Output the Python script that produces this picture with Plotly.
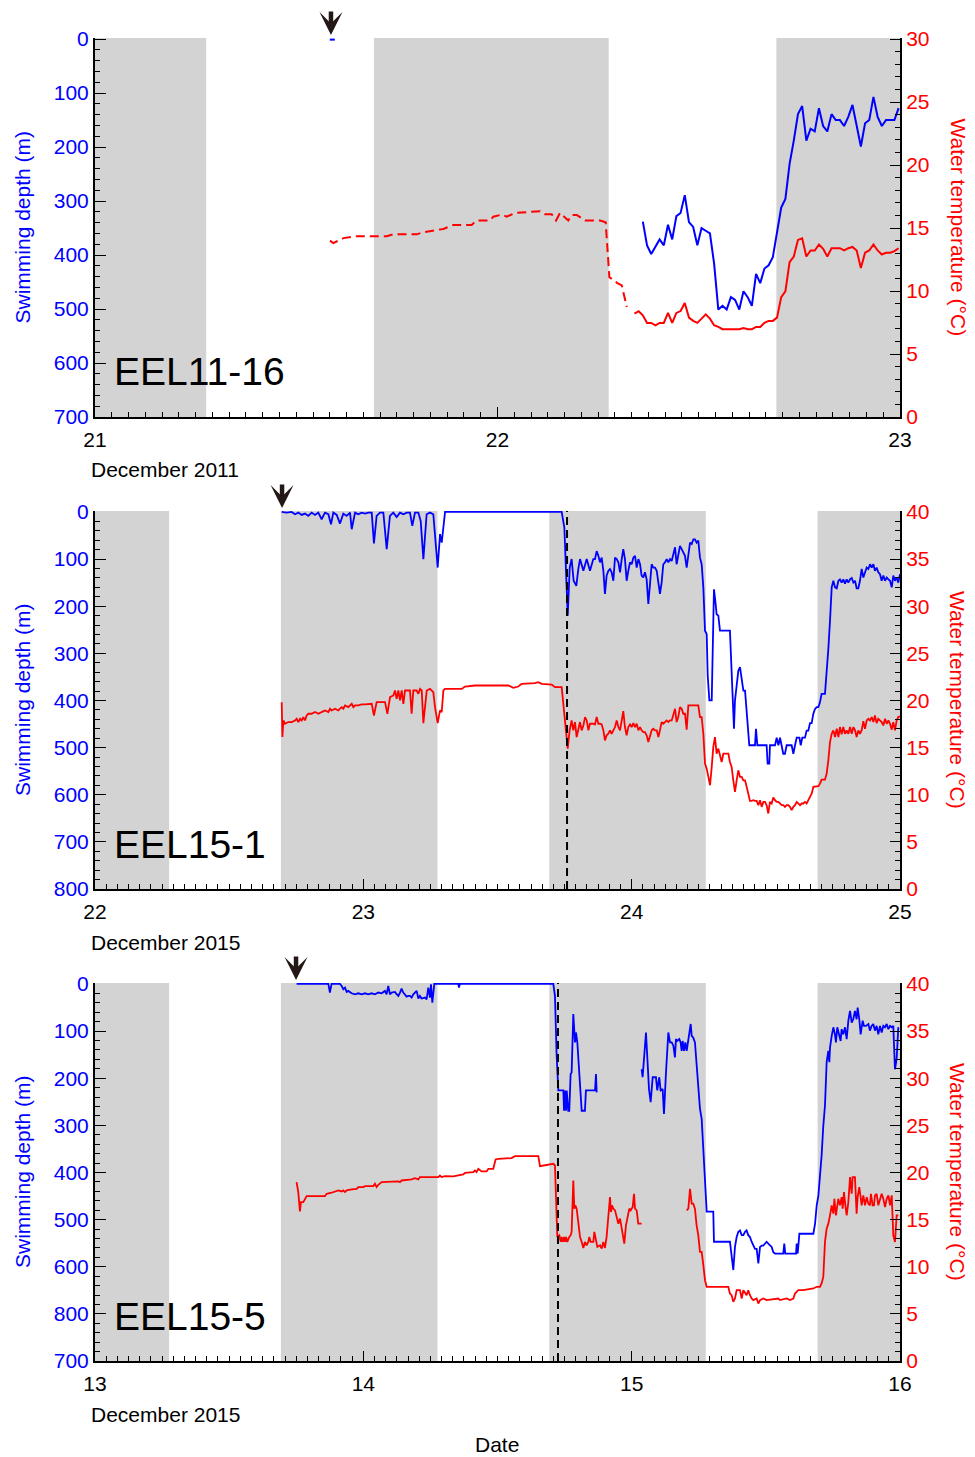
import pandas as pd
import plotly.graph_objects as go

FONT = "Liberation Sans, Arial, Helvetica, sans-serif"
BLUE = "#0000ff"
RED = "#ff0000"
NIGHT = "#d3d3d3"
INK = "#231815"

# ---------------- EEL11-16 : 21-23 December 2011 ----------------
e11_origin = "2011-12-21"
e11_end = "2011-12-23"
e11_release_h = 14.07
e11_night_h = [(0.0, 6.63), (16.63, 30.63), (40.63, 48.0)]
e11_depth_at_release = [(14.0, 1.0), (14.3, 1.0)]
# sparse temperature record before the 15-min logging (hours after origin, deg C)
e11_temp_sparse = [
    (14.01, 14.0), (14.21, 13.8), (14.81, 14.2), (15.61, 14.35), (17.39, 14.35),
    (17.79, 14.5), (19.18, 14.5), (19.58, 14.67), (20.77, 14.93), (21.37, 15.25),
    (22.46, 15.25), (22.76, 15.6), (23.55, 15.6), (23.75, 15.9), (24.25, 16.07),
    (24.55, 15.9), (25.04, 16.2), (26.24, 16.33), (26.54, 16.33), (26.83, 16.1),
    (27.23, 16.1), (27.49, 15.6), (27.73, 16.2), (28.22, 15.6), (28.43, 16.04),
    (28.72, 16.04), (29.22, 15.6), (30.11, 15.6), (30.45, 15.46), (30.67, 11.1),
    (31.15, 10.63), (31.41, 10.45), (31.71, 8.73),
]
e11_temp_start = "2011-12-22 08:10"
e11_temp_15min = [
    8.2, 8.4, 8.07, 7.47, 7.47, 7.28, 7.47, 7.47, 8.26, 7.47,
    8.26, 8.41, 9.05, 7.89, 7.63, 7.47, 7.81, 8.15, 7.81, 7.28,
    7.15, 6.97, 6.97, 6.97, 6.97, 6.97, 7.07, 6.97, 6.97, 7.15,
    7.15, 7.47, 7.63, 7.63, 7.89, 9.52, 9.97, 12.3, 12.74, 14.06,
    14.19, 12.74, 13.22, 13.22, 13.69, 13.35, 12.74, 13.4, 13.4, 13.4,
    13.22, 13.4, 13.5, 13.22, 11.82, 13.04, 13.22, 13.69, 13.22, 12.9,
    13.04, 13.04, 13.17, 13.4,
]
e11_depth_start = "2011-12-22 08:40"
e11_depth_15min = [
    338, 382, 398, 385, 371, 382, 344, 371, 328, 322,
    289, 339, 348, 382, 350, 355, 360, 416, 501, 494,
    501, 478, 483, 501, 467, 478, 494, 435, 452, 425,
    419, 404, 361, 312, 296, 231, 188, 139, 124, 188,
    166, 171, 128, 161, 171, 139, 150, 150, 161, 144,
    122, 161, 199, 156, 150, 107, 144, 161, 150, 150,
    150, 128,
]

# ---------------- EEL15-1 : 22-25 December 2015 ----------------
e15a_origin = "2015-12-22"
e15a_end = "2015-12-25"
e15a_release_h = 16.73
e15a_mark_h = 42.22
e15a_night_h = [(0.0, 6.63), (16.63, 30.63), (40.63, 54.63), (64.63, 72.0)]
e15a_depth = [
    (16.70, 0), (17.14, 1.4), (17.59, 0), (17.89, 4.9), (18.19, 1.4), (18.48, 6.3),
    (18.78, 3.5), (19.08, 8.5), (19.38, 1.4), (19.68, 6.3), (19.97, 1.4), (20.27, 15.5),
    (20.57, 1.4), (20.87, 4.9), (21.11, 26.1), (21.32, 1.4), (21.62, 6.3), (21.91, 24.7),
    (22.21, 3.5), (22.51, 8.5), (22.81, 1.4), (22.96, 36.7), (23.26, 1.4), (23.55, 4.9),
    (23.85, 1.4), (24.15, 3.5), (24.45, 1.4), (24.75, 1.4), (24.95, 67), (25.19, 8.5),
    (25.49, 1.4), (25.79, 1.4), (26.09, 79), (26.38, 8.5), (26.68, 1.4), (26.98, 10.6),
    (27.28, 1.4), (27.58, 4.9), (27.88, 1.4), (28.17, 1.4), (28.38, 29.6), (28.62, 1.4),
    (28.92, 1.4), (29.13, 19), (29.37, 100), (29.66, 4.9), (29.96, 1.4), (30.26, 4.9),
    (30.65, 118), (30.86, 47), (31.01, 65), (31.16, 33), (31.31, 0), (33.99, 0),
    (36.97, 0), (39.95, 0), (40.99, 0), (41.74, 0), (41.98, 33), (42.10, 97),
    (42.28, 220), (42.46, 118), (42.63, 100), (42.81, 146), (43.05, 157), (43.23, 121),
    (43.38, 100), (43.68, 125), (43.98, 100), (44.27, 125), (44.57, 100), (44.72, 100),
    (44.87, 83), (45.02, 93), (45.17, 107), (45.32, 97), (45.47, 125), (45.61, 174),
    (45.76, 135), (45.91, 125), (46.06, 121), (46.21, 128), (46.36, 146), (46.51, 97),
    (46.66, 100), (46.81, 107), (46.96, 128), (47.11, 100), (47.25, 79), (47.40, 100),
    (47.55, 146), (47.70, 125), (47.85, 107), (48.00, 111), (48.15, 97), (48.30, 93),
    (48.45, 118), (48.60, 100), (48.75, 111), (48.89, 135), (49.04, 139), (49.19, 128),
    (49.34, 143), (49.49, 195), (49.64, 153), (49.79, 111), (49.94, 118), (50.09, 118),
    (50.24, 125), (50.39, 146), (50.53, 174), (50.68, 150), (50.83, 111), (50.98, 107),
    (51.13, 100), (51.28, 107), (51.43, 100), (51.58, 104), (51.73, 90), (51.88, 75),
    (52.02, 111), (52.17, 93), (52.32, 72), (52.47, 79), (52.62, 86), (52.77, 93),
    (52.92, 118), (53.07, 90), (53.22, 65), (53.37, 68), (53.52, 58), (53.66, 58),
    (53.81, 65), (53.96, 61), (54.11, 97), (54.26, 111), (54.41, 160), (54.56, 252),
    (54.71, 259), (54.80, 347), (54.95, 400), (55.16, 400), (55.24, 329), (55.36, 164),
    (55.48, 188), (55.60, 217), (55.75, 220), (55.90, 252), (56.79, 252), (56.94, 329),
    (57.15, 460), (57.24, 400), (57.39, 361), (57.54, 337), (57.69, 329), (57.84, 358),
    (57.99, 379), (58.14, 379), (58.29, 425), (58.43, 449), (58.52, 495), (59.03, 495),
    (59.12, 460), (59.24, 495), (60.07, 495), (60.16, 534), (60.31, 534), (60.37, 495),
    (60.82, 495), (60.97, 479), (61.12, 495), (61.27, 479), (61.42, 499), (61.56, 513),
    (61.71, 513), (61.86, 495), (62.31, 495), (62.46, 513), (62.61, 495), (62.76, 479),
    (63.00, 479), (63.12, 495), (63.26, 479), (63.50, 479), (63.65, 464), (63.80, 464),
    (63.95, 448), (64.10, 448), (64.25, 428), (64.40, 418), (64.55, 414), (64.70, 414),
    (64.84, 404), (64.99, 386), (65.29, 386), (65.44, 347), (65.59, 291), (65.74, 231),
    (65.89, 160), (66.04, 146), (66.19, 160), (66.34, 162), (66.49, 146), (66.63, 143),
    (66.78, 150), (66.93, 143), (67.08, 152), (67.23, 143), (67.38, 150), (67.53, 143),
    (67.68, 140), (67.83, 150), (67.98, 146), (68.12, 162), (68.27, 162), (68.42, 146),
    (68.57, 121), (68.72, 139), (68.87, 128), (69.02, 118), (69.17, 121), (69.32, 111),
    (69.47, 118), (69.62, 111), (69.76, 125), (69.91, 118), (70.06, 128), (70.21, 132),
    (70.36, 146), (70.51, 135), (70.66, 146), (70.81, 139), (70.96, 143), (71.11, 146),
    (71.26, 160), (71.40, 135), (71.55, 146), (71.70, 139), (71.85, 150), (72.00, 132),
]
e15a_temp = [
    (16.70, 19.82), (16.76, 16.12), (16.85, 17.88), (16.99, 17.53), (17.29, 17.71),
    (17.59, 17.71), (17.89, 17.88), (18.04, 18.06), (18.19, 17.71), (18.34, 18.06),
    (18.49, 17.88), (18.63, 18.24), (18.78, 17.88), (18.93, 18.41), (19.08, 18.59),
    (19.38, 18.59), (19.68, 18.77), (19.98, 18.59), (20.27, 18.77), (20.57, 18.94),
    (20.87, 18.77), (21.02, 19.12), (21.17, 18.94), (21.47, 19.12), (21.76, 18.94),
    (22.06, 19.29), (22.21, 19.12), (22.36, 19.47), (22.66, 19.29), (22.96, 19.65),
    (23.11, 19.29), (23.26, 19.47), (23.55, 19.47), (23.85, 19.58), (24.15, 19.58),
    (24.45, 19.65), (24.75, 19.65), (24.95, 18.41), (25.19, 19.82), (25.64, 19.82),
    (25.94, 19.82), (26.15, 18.59), (26.39, 20.35), (26.68, 20.53), (26.83, 21.06),
    (26.98, 20.18), (27.13, 21.06), (27.28, 20.00), (27.43, 21.06), (27.58, 19.65),
    (27.73, 21.06), (28.03, 21.06), (28.17, 21.06), (28.32, 18.59), (28.47, 21.06),
    (28.77, 21.06), (28.92, 20.71), (29.07, 21.23), (29.22, 21.06), (29.37, 17.60),
    (29.67, 21.06), (29.96, 21.23), (30.26, 20.88), (30.41, 19.29), (30.65, 17.60),
    (30.86, 18.94), (31.01, 18.77), (31.16, 21.06), (31.30, 21.23), (32.80, 21.23),
    (33.09, 21.48), (33.99, 21.59), (36.97, 21.59), (37.42, 21.34), (37.86, 21.48),
    (38.16, 21.76), (39.35, 21.83), (39.65, 21.94), (39.95, 21.76), (40.85, 21.69),
    (41.14, 21.41), (41.74, 21.41), (41.98, 18.24), (42.10, 16.47), (42.28, 14.89),
    (42.45, 16.83), (42.63, 17.88), (42.78, 16.83), (42.93, 17.71), (43.08, 16.12),
    (43.23, 16.83), (43.38, 17.71), (43.53, 16.83), (43.68, 17.35), (43.83, 18.24),
    (43.98, 17.88), (44.13, 16.83), (44.27, 17.53), (44.57, 17.53), (44.72, 17.46),
    (44.87, 18.24), (45.02, 17.53), (45.17, 17.53), (45.32, 17.46), (45.47, 16.83),
    (45.61, 15.77), (45.76, 16.30), (45.91, 16.47), (46.06, 16.83), (46.21, 16.47),
    (46.36, 16.83), (46.51, 17.18), (46.66, 17.88), (46.81, 17.18), (46.96, 16.83),
    (47.11, 17.71), (47.25, 18.87), (47.40, 17.18), (47.55, 16.30), (47.70, 17.18),
    (47.85, 17.46), (48.00, 17.18), (48.15, 17.60), (48.30, 17.18), (48.45, 17.53),
    (48.60, 16.83), (48.75, 17.18), (48.89, 16.83), (49.04, 16.65), (49.19, 16.65),
    (49.34, 16.30), (49.49, 15.59), (49.64, 16.12), (49.79, 16.83), (49.94, 17.00),
    (50.09, 16.83), (50.24, 16.83), (50.39, 16.12), (50.53, 16.83), (50.68, 17.71),
    (50.83, 17.53), (50.98, 17.71), (51.13, 17.88), (51.28, 17.71), (51.43, 17.88),
    (51.58, 17.88), (51.73, 18.41), (51.88, 19.12), (52.02, 17.71), (52.17, 18.24),
    (52.32, 19.29), (52.47, 19.12), (52.62, 18.59), (52.77, 18.59), (52.92, 16.90),
    (53.07, 19.47), (53.96, 19.47), (54.11, 18.24), (54.26, 18.24), (54.41, 16.47),
    (54.56, 13.30), (54.71, 12.77), (54.86, 11.89), (55.01, 11.01), (55.16, 12.95),
    (55.30, 15.06), (55.45, 16.12), (55.60, 14.36), (55.75, 14.89), (55.90, 14.00),
    (56.05, 13.47), (56.20, 14.36), (56.65, 14.36), (56.79, 13.47), (56.94, 12.95),
    (57.09, 11.53), (57.24, 10.30), (57.39, 11.53), (57.54, 12.59), (57.69, 11.89),
    (57.84, 11.89), (57.99, 11.53), (58.14, 11.53), (58.29, 10.83), (58.43, 9.95),
    (58.58, 9.35), (58.73, 9.35), (58.88, 9.42), (59.03, 9.35), (59.18, 9.35),
    (59.33, 8.89), (59.48, 9.42), (59.63, 8.71), (59.78, 9.24), (59.93, 9.24),
    (60.07, 8.89), (60.22, 8.01), (60.37, 9.24), (60.52, 9.07), (60.67, 9.70),
    (60.82, 9.42), (60.97, 9.24), (61.12, 9.24), (61.27, 9.07), (61.42, 8.89),
    (61.56, 8.89), (61.71, 8.71), (61.86, 8.89), (62.01, 8.89), (62.16, 8.71),
    (62.31, 8.36), (62.46, 8.71), (62.61, 8.89), (62.76, 9.24), (62.91, 9.07),
    (63.06, 8.89), (63.21, 9.07), (63.35, 9.07), (63.50, 9.24), (63.65, 9.07),
    (63.80, 9.42), (63.95, 9.70), (64.10, 10.12), (64.25, 10.83), (64.55, 10.83),
    (64.70, 10.90), (64.84, 11.18), (64.99, 11.60), (65.29, 11.60), (65.44, 12.24),
    (65.59, 13.65), (65.74, 15.59), (65.89, 16.47), (66.04, 16.83), (66.19, 16.12),
    (66.34, 17.00), (66.49, 16.12), (66.63, 17.18), (66.78, 16.40), (66.93, 17.18),
    (67.08, 16.47), (67.23, 16.83), (67.38, 16.47), (67.53, 17.18), (67.68, 16.47),
    (67.83, 17.18), (67.98, 16.83), (68.12, 16.12), (68.27, 16.83), (68.42, 16.47),
    (68.57, 16.83), (68.72, 17.81), (68.87, 17.00), (69.02, 17.88), (69.17, 18.06),
    (69.32, 17.88), (69.47, 18.24), (69.62, 17.71), (69.76, 18.41), (69.91, 17.60),
    (70.06, 18.06), (70.21, 17.88), (70.36, 17.71), (70.51, 17.35), (70.66, 18.06),
    (70.81, 17.53), (70.96, 17.88), (71.11, 17.53), (71.26, 16.90), (71.40, 17.71),
    (71.55, 16.83), (71.70, 17.88), (71.85, 18.24), (72.00, 18.31),
]

# ---------------- EEL15-5 : 13-16 December 2015 ----------------
e15b_origin = "2015-12-13"
e15b_end = "2015-12-16"
e15b_release_h = 17.98
e15b_mark_h = 41.41
e15b_night_h = [(0.0, 6.63), (16.63, 30.63), (40.63, 54.63), (64.63, 72.0)]
e15b_depth = [
    (18.03, 0), (20.87, 0), (21.01, 18.3), (21.16, 0), (21.91, 0), (22.06, 4.2),
    (22.21, 11.3), (22.36, 7.8), (22.51, 16.9), (22.65, 14.8), (22.95, 19.8), (23.25, 21.9),
    (23.55, 19.8), (23.85, 21.9), (24.15, 19.8), (24.44, 21.9), (24.74, 19.8), (25.04, 21.9),
    (25.34, 18.3), (25.64, 19.8), (25.93, 14.8), (26.08, 21.9), (26.23, 4.2), (26.38, 21.9),
    (26.53, 18.3), (26.83, 16.9), (26.98, 21.9), (27.13, 25.4), (27.28, 18.3), (27.42, 9.9),
    (27.57, 18.3), (27.72, 21.9), (27.87, 26.8), (28.02, 25.4), (28.17, 25.4), (28.32, 28.9),
    (28.47, 21.9), (28.77, 14.8), (28.92, 31.0), (29.06, 25.4), (29.21, 31.0), (29.51, 28.9),
    (29.66, 32.5), (29.81, 7.8), (29.96, 28.9), (30.05, 0.7), (30.17, 39.5), (30.35, 0),
    (32.49, 0), (32.55, 7.8), (32.64, 0), (40.99, 0), (41.14, 25.4), (41.29, 152),
    (41.44, 226), (41.89, 226), (41.95, 269), (42.04, 226), (42.13, 269), (42.19, 226),
    (42.33, 269), (42.42, 269), (42.54, 191), (42.63, 188), (42.78, 64), (42.93, 124),
    (43.02, 103), (43.14, 124), (43.32, 191), (43.53, 269), (43.82, 269), (43.91, 226),
    (44.72, 226), (44.81, 191), (44.87, 230), (46.50, None),
    (48.89, 181), (48.98, 198), (49.28, 103), (49.40, 152), (49.55, 223), (49.70, 251),
    (49.88, 198), (50.17, 198), (50.29, 226), (50.47, 198), (50.59, 226), (50.77, 223),
    (50.89, 276), (51.07, 188), (51.28, 103), (51.43, 124), (51.58, 124), (51.73, 131),
    (51.87, 156), (51.96, 117), (52.08, 121), (52.26, 117), (52.38, 124), (52.47, 142),
    (52.56, 121), (52.68, 142), (52.80, 124), (52.92, 142), (53.07, 121), (53.28, 85),
    (53.37, 110), (53.51, 114), (53.66, 124), (53.81, 166), (53.96, 216), (54.11, 265),
    (54.26, 286), (54.41, 350), (54.56, 417), (54.71, 483), (55.30, 483), (55.36, 547),
    (56.79, 547), (56.94, 583), (57.09, 607), (57.24, 558), (57.39, 537), (57.54, 526),
    (57.69, 523), (57.84, 533), (57.99, 533), (58.14, 526), (58.28, 523), (58.43, 533),
    (58.58, 537), (58.73, 547), (58.88, 555), (59.03, 562), (59.18, 562), (59.33, 593),
    (59.48, 558), (59.63, 555), (59.77, 555), (59.92, 551), (60.07, 547), (60.22, 551),
    (60.37, 555), (60.52, 558), (60.67, 569), (60.82, 572), (61.56, 572), (61.65, 551),
    (61.74, 572), (62.70, 572), (62.76, 551), (62.85, 572), (63.00, 530), (64.25, 530),
    (64.40, 509), (64.55, 470), (64.70, 449), (64.84, 413), (64.99, 364), (65.14, 301),
    (65.29, 258), (65.44, 166), (65.59, 142), (65.68, 166), (65.74, 135), (65.89, 110),
    (66.04, 92), (66.18, 107), (66.27, 124), (66.39, 92), (66.57, 107), (66.69, 121),
    (66.78, 96), (66.93, 107), (67.08, 92), (67.23, 117), (67.38, 78), (67.53, 57),
    (67.68, 82), (67.82, 75), (67.97, 57), (68.12, 75), (68.21, 50), (68.36, 75),
    (68.48, 107), (68.66, 78), (68.78, 89), (68.96, 89), (69.17, 85), (69.31, 99),
    (69.46, 89), (69.61, 85), (69.76, 99), (69.91, 89), (70.06, 107), (70.21, 89),
    (70.36, 103), (70.51, 89), (70.66, 92), (70.81, 85), (70.96, 96), (71.11, 89),
    (71.26, 92), (71.40, 89), (71.55, 181), (71.70, 159), (71.85, 92),
]
e15b_temp = [
    (18.03, 18.98), (18.18, 17.92), (18.33, 15.87), (18.42, 16.86), (18.63, 16.86),
    (18.78, 17.21), (18.93, 17.50), (20.57, 17.50), (20.72, 17.74), (21.16, 17.85),
    (21.46, 17.99), (21.76, 18.10), (22.06, 17.99), (22.21, 18.10), (22.36, 17.92),
    (22.51, 18.10), (22.95, 18.20), (23.40, 18.27), (23.55, 18.45), (24.00, 18.45),
    (24.15, 18.55), (24.89, 18.55), (25.04, 18.80), (25.19, 18.45), (25.34, 18.69),
    (25.64, 18.98), (27.13, 19.05), (27.28, 18.98), (27.42, 19.15), (28.32, 19.26),
    (28.62, 19.40), (28.92, 19.26), (29.06, 19.51), (29.51, 19.51), (30.55, 19.58),
    (30.70, 19.51), (30.85, 19.68), (31.00, 19.51), (31.30, 19.61), (32.05, 19.58),
    (32.49, 19.68), (32.94, 19.79), (33.09, 19.96), (33.83, 20.04), (33.98, 20.21),
    (34.13, 20.04), (34.28, 20.39), (34.43, 20.21), (34.58, 20.11), (35.03, 20.11),
    (35.18, 20.39), (35.62, 20.39), (35.83, 21.38), (36.07, 21.45), (37.26, 21.52),
    (37.56, 21.73), (39.65, 21.73), (39.80, 20.67), (40.99, 20.92), (41.14, 20.74),
    (41.23, 17.92), (41.35, 13.16), (41.53, 13.33), (41.65, 12.63), (41.74, 13.16),
    (41.83, 12.63), (41.95, 13.16), (42.04, 12.63), (42.13, 13.16), (42.24, 12.63),
    (42.42, 13.16), (42.54, 13.33), (42.63, 13.69), (42.78, 19.15), (42.87, 16.16),
    (42.96, 16.51), (43.08, 16.16), (43.23, 14.39), (43.38, 13.16), (43.53, 12.63),
    (43.68, 11.99), (43.82, 12.63), (43.97, 12.27), (44.12, 12.63), (44.21, 13.16),
    (44.33, 12.63), (44.57, 12.63), (44.66, 13.69), (44.81, 12.63), (44.93, 12.10),
    (45.17, 12.27), (45.32, 11.92), (45.46, 12.63), (45.61, 11.99), (45.76, 13.16),
    (45.91, 15.27), (46.06, 17.39), (46.15, 15.80), (46.24, 16.51), (46.36, 16.16),
    (46.51, 15.98), (46.66, 15.27), (46.81, 14.57), (46.96, 15.10), (47.10, 14.04),
    (47.25, 13.16), (47.34, 12.45), (47.49, 14.39), (47.61, 15.27), (47.79, 16.16),
    (47.91, 15.98), (48.09, 16.33), (48.21, 17.74), (48.30, 16.16), (48.45, 15.98),
    (48.59, 14.57), (48.89, 14.57), (50.90, None),
    (52.92, 15.98), (53.07, 16.16), (53.22, 18.27), (53.37, 16.69), (53.51, 16.69),
    (53.66, 16.16), (53.81, 14.39), (53.96, 13.33), (54.11, 11.57), (54.26, 11.57),
    (54.41, 10.16), (54.56, 8.57), (54.71, 7.87), (56.64, 7.87), (56.79, 7.16),
    (56.94, 6.98), (57.09, 6.28), (57.24, 6.63), (57.39, 7.51), (57.69, 7.51),
    (57.84, 6.63), (57.99, 7.51), (58.28, 6.98), (58.43, 7.51), (58.58, 6.98),
    (58.73, 6.63), (58.88, 6.46), (59.18, 6.63), (59.33, 6.10), (59.48, 6.46),
    (59.77, 6.63), (60.07, 6.46), (61.12, 6.63), (61.27, 6.46), (61.86, 6.63),
    (62.16, 6.46), (62.46, 6.63), (62.61, 7.16), (62.90, 7.51), (63.35, 7.51),
    (64.25, 7.69), (64.55, 7.87), (64.84, 7.87), (64.99, 8.22), (65.14, 8.92),
    (65.29, 12.63), (65.44, 14.04), (65.59, 14.57), (65.74, 15.45), (65.89, 16.51),
    (66.04, 15.63), (66.13, 17.21), (66.27, 15.45), (66.39, 16.51), (66.48, 17.21),
    (66.63, 16.51), (66.78, 17.39), (66.87, 16.16), (66.99, 17.92), (67.11, 16.51),
    (67.23, 15.45), (67.38, 16.86), (67.53, 19.51), (67.68, 17.74), (67.76, 19.51),
    (67.97, 19.51), (68.12, 15.63), (68.21, 17.39), (68.36, 18.45), (68.48, 17.39),
    (68.57, 16.51), (68.72, 17.57), (68.87, 16.51), (69.02, 17.39), (69.17, 16.68),
    (69.31, 16.51), (69.40, 17.74), (69.55, 16.51), (69.67, 16.51), (69.76, 17.57),
    (69.91, 17.74), (70.06, 16.51), (70.21, 17.04), (70.36, 17.74), (70.51, 17.21),
    (70.66, 16.33), (70.81, 17.21), (70.96, 17.57), (71.11, 16.51), (71.26, 17.57),
    (71.40, 13.33), (71.55, 12.63), (71.70, 15.45), (71.85, 15.45),
]

depth_ticks_700 = [0, 100, 200, 300, 400, 500, 600, 700]
depth_ticks_800 = [0, 100, 200, 300, 400, 500, 600, 700, 800]
depth_text_15_1 = ["0", "100", "200", "300", "400", "500", "600", "700", "800"]
depth_text_15_5 = ["0", "100", "200", "300", "400", "500", "600", "800", "700"]


# ---------------- helpers ----------------
W, H = 975, 1457
X_DOM = [95 / W, 900 / W]


def py(px):
    return 1 - px / H


def at(origin, hours):
    return pd.Timestamp(origin) + pd.to_timedelta(list(hours), unit="h")


def split(pairs):
    hrs = [p[0] for p in pairs]
    vals = [p[1] for p in pairs]
    return hrs, vals


def regular(start, values, minutes=15):
    return pd.date_range(start, periods=len(values), freq=f"{minutes}min")


panels = [
    dict(name="EEL11-16", month="December 2011", origin=e11_origin, end=e11_end,
         top=38, bottom=417, dmax=700, tmax=30, dticks=depth_ticks_700,
         dtext=[str(v) for v in depth_ticks_700], release=e11_release_h,
         nights=e11_night_h, mark=None),
    dict(name="EEL15-1", month="December 2015", origin=e15a_origin, end=e15a_end,
         top=511, bottom=889, dmax=800, tmax=40, dticks=depth_ticks_800,
         dtext=depth_text_15_1, release=e15a_release_h, nights=e15a_night_h,
         mark=e15a_mark_h),
    dict(name="EEL15-5", month="December 2015", origin=e15b_origin, end=e15b_end,
         top=983, bottom=1361, dmax=800, tmax=40, dticks=depth_ticks_800,
         dtext=depth_text_15_5, release=e15b_release_h, nights=e15b_night_h,
         mark=e15b_mark_h),
]

fig = go.Figure()
layout = dict(width=W, height=H, margin=dict(l=0, r=0, t=0, b=0, autoexpand=False),
              paper_bgcolor="white", plot_bgcolor="white", showlegend=False,
              font=dict(family=FONT, size=21, color="black"))
shapes, annotations = [], []

for i, p in enumerate(panels):
    n = i + 1
    xa = "x" if n == 1 else f"x{n}"
    yd = "y" if n == 1 else f"y{2 * n - 1}"
    dom = [py(p["bottom"]), py(p["top"])]
    dtop = -2
    ttop = p["tmax"] * (p["dmax"] - dtop) / p["dmax"]

    layout["xaxis" if n == 1 else f"xaxis{n}"] = dict(
        domain=X_DOM, anchor=yd, type="date", range=[p["origin"], p["end"]],
        tick0=p["origin"], dtick=86400000, tickformat="%d", automargin=False,
        ticks="inside", ticklen=10, tickwidth=1, tickcolor="black",
        showline=True, linecolor="black", linewidth=2, mirror=False,
        showgrid=False, zeroline=False, ticklabelstandoff=3,
        tickfont=dict(size=21, color="black", family=FONT),
        minor=dict(ticks="inside", ticklen=5, tickwidth=1, dtick=3600000,
                   tick0=p["origin"], tickcolor="black", showgrid=False),
    )
    layout["yaxis" if n == 1 else f"yaxis{2 * n - 1}"] = dict(
        domain=dom, anchor=xa, range=[p["dmax"], dtop], automargin=False,
        tickmode="array", tickvals=p["dticks"], ticktext=p["dtext"],
        ticks="inside", ticklen=11, tickwidth=1, tickcolor="black",
        showline=True, linecolor="black", linewidth=2,
        showgrid=False, zeroline=False,
        tickfont=dict(size=21, color=BLUE, family=FONT),
        minor=dict(ticks="inside", ticklen=5, tickwidth=1, tickmode="linear",
                   tick0=0, dtick=20, tickcolor="black", showgrid=False),
    )
    layout[f"yaxis{2 * n}"] = dict(
        overlaying=yd, side="right", anchor=xa, range=[0, ttop], automargin=False,
        tickmode="linear", tick0=0, dtick=5,
        ticks="inside", ticklen=10, tickwidth=1, tickcolor="black",
        showline=True, linecolor="black", linewidth=2,
        showgrid=False, zeroline=False,
        tickfont=dict(size=21, color=RED, family=FONT),
        minor=dict(ticks="inside", ticklen=5, tickwidth=1, tickmode="linear",
                   tick0=0, dtick=1, tickcolor="black", showgrid=False),
    )

    # night periods
    for h0, h1 in p["nights"]:
        t0, t1 = at(p["origin"], [h0, h1])
        shapes.append(dict(type="rect", xref=xa, yref=f"{yd} domain",
                           x0=t0, x1=t1, y0=0, y1=1, fillcolor=NIGHT,
                           line=dict(width=0), layer="below"))
    # vertical dashed marker
    if p["mark"] is not None:
        tm = at(p["origin"], [p["mark"]])[0]
        shapes.append(dict(type="line", xref=xa, yref=f"{yd} domain",
                           x0=tm, x1=tm, y0=0, y1=1, layer="above",
                           line=dict(color="black", width=2, dash="8px,5px")))
    # release arrow
    annotations.append(dict(
        x=at(p["origin"], [p["release"]])[0], y=1, xref=xa, yref=f"{yd} domain",
        ax=0, ay=-28, axref="pixel", ayref="pixel", text="", showarrow=True,
        standoff=3, arrowhead=3, arrowsize=0.85, arrowwidth=4.5, arrowcolor=INK))
    mid = (p["top"] + p["bottom"]) / 2
    annotations += [
        dict(text="Swimming depth (m)", x=22 / W, y=py(mid), xref="paper", yref="paper",
             textangle=-90, showarrow=False, xanchor="center", yanchor="middle",
             font=dict(size=21, color=BLUE, family=FONT)),
        dict(text="Water temperature (°C)", x=958 / W, y=py(mid), xref="paper",
             yref="paper", textangle=90, showarrow=False, xanchor="center",
             yanchor="middle", font=dict(size=21, color=RED, family=FONT)),
        dict(text=p["month"], x=89 / W, y=py(p["bottom"] + 53), xref="paper",
             yref="paper", showarrow=False, xanchor="left", yanchor="middle",
             font=dict(size=21, color="black", family=FONT)),
        dict(text=p["name"], x=112 / W, y=py(p["bottom"] - 45), xref="paper",
             yref="paper", showarrow=False, xanchor="left", yanchor="middle",
             font=dict(size=39, color="black", family=FONT)),
    ]

annotations.append(dict(text="Date", x=497 / W, y=py(1444), xref="paper", yref="paper",
                        showarrow=False, xanchor="center", yanchor="middle",
                        font=dict(size=21, color="black", family=FONT)))


def line(x, y, xa, ya, color, width=2.0, dash="solid"):
    fig.add_trace(go.Scatter(x=x, y=y, xaxis=xa, yaxis=ya, mode="lines",
                             line=dict(color=color, width=width, dash=dash),
                             connectgaps=False, hoverinfo="skip"))


# EEL11-16
h, v = split(e11_depth_at_release)
line(at(e11_origin, h), v, "x", "y", BLUE)
line(regular(e11_depth_start, e11_depth_15min), e11_depth_15min, "x", "y", BLUE)
h, v = split(e11_temp_sparse)
line(at(e11_origin, h), v, "x", "y2", RED, dash="9px,5px")
line(regular(e11_temp_start, e11_temp_15min), e11_temp_15min, "x", "y2", RED)

# EEL15-1
h, v = split(e15a_depth)
line(at(e15a_origin, h), v, "x2", "y3", BLUE, 1.8)
h, v = split(e15a_temp)
line(at(e15a_origin, h), v, "x2", "y4", RED, 1.8)

# EEL15-5
h, v = split(e15b_depth)
line(at(e15b_origin, h), v, "x3", "y5", BLUE, 1.8)
h, v = split(e15b_temp)
line(at(e15b_origin, h), v, "x3", "y6", RED, 1.8)

layout["shapes"] = shapes
layout["annotations"] = annotations
fig.update_layout(**layout)
fig.write_html("out.html")
